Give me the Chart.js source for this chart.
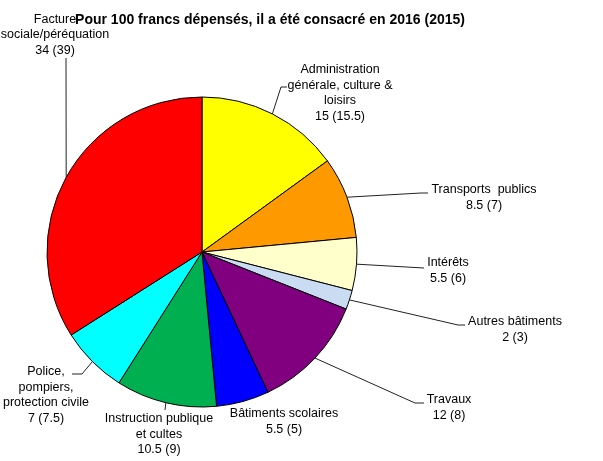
<!DOCTYPE html>
<html>
<head>
<meta charset="utf-8">
<script src="https://cdn.jsdelivr.net/npm/chart.js@4"></script>
<style>
    body { margin: 0; background: #fff; }
</style>
</head>
<body>
<canvas id="pieChart" width="603" height="461"></canvas>
<script>
// Data (values 2016, previous year in brackets)
const categories = [
    'Administration générale, culture & loisirs',
    'Transports publics',
    'Intérêts',
    'Autres bâtiments',
    'Travaux',
    'Bâtiments scolaires',
    'Instruction publique et cultes',
    'Police, pompiers, protection civile',
    'Facture sociale/péréquation'
];
const values2016 = [15, 8.5, 5.5, 2, 12, 5.5, 10.5, 7, 34];
const values2015 = [15.5, 7, 6, 3, 8, 5, 9, 7.5, 39];
const labelLines = [
    ['Administration', 'générale, culture &', 'loisirs'],
    ['Transports  publics'],
    ['Intérêts'],
    ['Autres bâtiments'],
    ['Travaux'],
    ['Bâtiments scolaires'],
    ['Instruction publique', 'et cultes'],
    ['Police,', 'pompiers,', 'protection civile'],
    ['Facture', 'sociale/péréquation']
];
const chartTitle = 'Pour 100 francs dépensés, il a été consacré en 2016 (2015)';

const sliceColors = ['#FFFF00', '#FF9900', '#FFFFCC', '#C9DCF2', '#800080',
    '#0000FF', '#00B050', '#00FFFF', '#FF0000'];

// where each label block sits, and the bends of its leader line
const labelLayout = [
    { x: 340, y: 70, path: [[281, 87], [287, 87]] },
    { x: 484, y: 190, path: [[421, 193], [428, 193]] },
    { x: 448, y: 263, path: [[424, 268]] },
    { x: 515, y: 322, path: [[458, 325], [465, 325]] },
    { x: 449, y: 400, path: [[415, 403], [424, 403]] },
    { x: 284, y: 414, path: null },
    { x: 159, y: 419, path: [[165, 410]] },
    { x: 46, y: 372, path: [[82, 374], [72, 374]] },
    { x: 55, y: 19.5, path: [[66, 58]] }
];

const lineHeight = 15.5;

const labelPlugin = {
    id: 'pieLabels',
    afterDraw(chart) {
        const ctx = chart.ctx;
        const arcs = chart.getDatasetMeta(0).data;
        ctx.save();

        // title
        ctx.fillStyle = '#000';
        ctx.font = 'bold 14px "Liberation Sans", Arial, sans-serif';
        ctx.textAlign = 'center';
        ctx.textBaseline = 'middle';
        ctx.fillText(chartTitle, 270, 20);

        arcs.forEach((arc, i) => {
            const { x, y, startAngle, endAngle, outerRadius } = arc.getProps(
                ['x', 'y', 'startAngle', 'endAngle', 'outerRadius'], true);
            const mid = (startAngle + endAngle) / 2;
            const ax = x + Math.cos(mid) * outerRadius;
            const ay = y + Math.sin(mid) * outerRadius;
            const lay = labelLayout[i];

            if (lay.path) {
                ctx.strokeStyle = '#222';
                ctx.lineWidth = 1;
                ctx.beginPath();
                ctx.moveTo(ax, ay);
                lay.path.forEach(p => ctx.lineTo(p[0], p[1]));
                ctx.stroke();
            }

            const lines = labelLines[i].concat([values2016[i] + ' (' + values2015[i] + ')']);
            ctx.font = '12.5px "Liberation Sans", Arial, sans-serif';
            ctx.fillStyle = '#000';
            ctx.textAlign = 'center';
            ctx.textBaseline = 'middle';
            lines.forEach((t, k) => ctx.fillText(t, lay.x, lay.y + k * lineHeight));
        });
        ctx.restore();
    }
};

const ctx = document.getElementById('pieChart').getContext('2d');
new Chart(ctx, {
    type: 'pie',
    data: {
        labels: categories,
        datasets: [{
            data: values2016,
            backgroundColor: sliceColors,
            borderColor: '#000',
            borderWidth: 1
        }]
    },
    options: {
        responsive: false,
        animation: false,
        layout: {
            padding: { left: 46.5, top: 96.5, right: 245.5, bottom: 53.5 }
        },
        plugins: {
            legend: { display: false },
            tooltip: { enabled: false },
            title: { display: false }
        }
    },
    plugins: [labelPlugin]
});
</script>
</body>
</html>
